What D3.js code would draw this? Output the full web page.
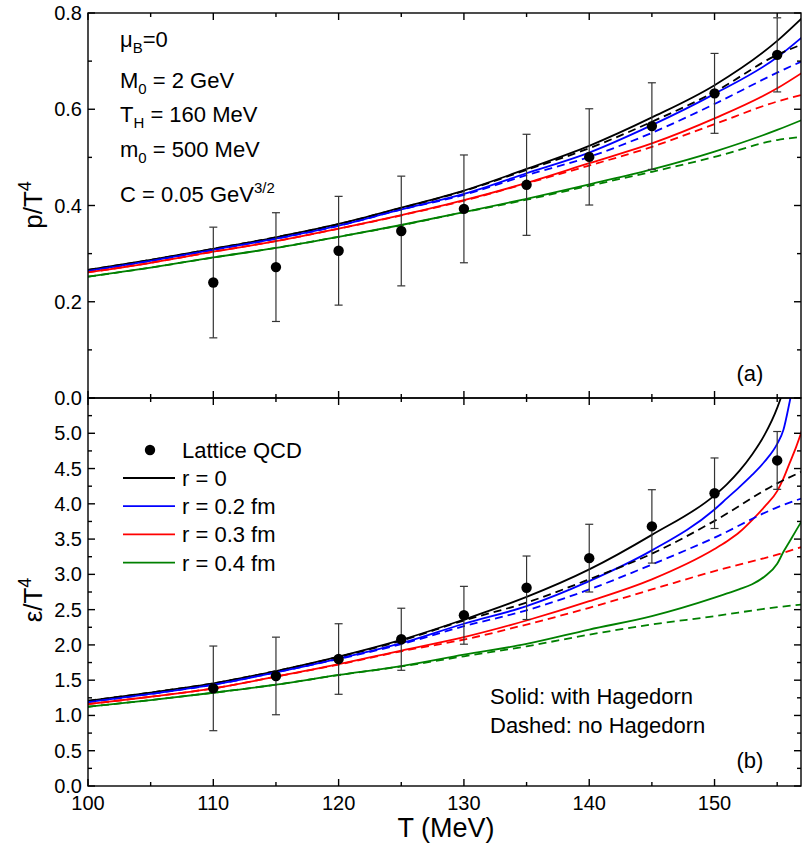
<!DOCTYPE html>
<html>
<head>
<meta charset="utf-8">
<script src="https://cdn.jsdelivr.net/npm/d3@7"></script>
<style>
  html, body { margin: 0; padding: 0; background: #fff; }
  svg { display: block; font-family: "Liberation Sans", Arial, sans-serif; }
</style>
</head>
<body>
<svg id="chart" width="802" height="848"></svg>
<script>
// ---- Lattice QCD points ----
const latticeT = [110, 115, 120, 125, 130, 135, 140, 145, 150, 155];
const latticeP = [0.240, 0.272, 0.306, 0.347, 0.393, 0.443, 0.501, 0.565, 0.633, 0.713];
const latticePErr = [0.115, 0.113, 0.113, 0.114, 0.112, 0.105, 0.100, 0.090, 0.083, 0.077];
const latticeE = [1.384, 1.56, 1.80, 2.08, 2.42, 2.81, 3.23, 3.68, 4.15, 4.615];
const latticeEErr = [0.60, 0.55, 0.50, 0.44, 0.41, 0.45, 0.48, 0.52, 0.50, 0.41];

// ---- Pressure p/T^4 (panel a) ----
const tP = [100, 105, 110, 115, 120, 125, 130, 135, 140, 145, 150, 155, 157];
const pR0     = [0.266, 0.287, 0.310, 0.334, 0.3616, 0.3955, 0.431, 0.476, 0.524, 0.583, 0.650, 0.742, 0.790];
const pR02    = [0.264, 0.285, 0.308, 0.331, 0.358, 0.392, 0.424, 0.467, 0.510, 0.567, 0.632, 0.708, 0.750];
const pR03    = [0.261, 0.281, 0.304, 0.326, 0.352, 0.380, 0.411, 0.447, 0.488, 0.529, 0.581, 0.6435, 0.676];
const pR04    = [0.252, 0.271, 0.292, 0.312, 0.335, 0.3595, 0.386, 0.414, 0.444, 0.475, 0.512, 0.557, 0.578];
const pR0NoH  = [0.266, 0.287, 0.310, 0.334, 0.3614, 0.395, 0.430, 0.474, 0.519, 0.574, 0.636, 0.713, 0.735];
const pR02NoH = [0.264, 0.285, 0.308, 0.331, 0.3578, 0.3915, 0.422, 0.463, 0.501, 0.551, 0.611, 0.676, 0.700];
const pR03NoH = [0.261, 0.281, 0.304, 0.326, 0.3518, 0.3795, 0.410, 0.446, 0.483, 0.522, 0.569, 0.616, 0.630];
const pR04NoH = [0.252, 0.271, 0.292, 0.312, 0.335, 0.359, 0.386, 0.412, 0.441, 0.470, 0.501, 0.536, 0.543];

// ---- Energy density eps/T^4 (panel b) ----
const tE = [100, 105, 110, 115, 120, 125, 130, 135, 140, 145, 150, 151, 152, 153, 154, 155, 155.5, 156, 156.5, 157];
const eR0  = [1.208, 1.325, 1.455, 1.63, 1.834, 2.071, 2.36, 2.68, 3.07, 3.56, 4.12, 4.28, 4.47, 4.70, 4.98, 5.36, 5.62, 6.0, null, null];
const eR02 = [1.19, 1.305, 1.436, 1.61, 1.806, 2.024, 2.30, 2.55, 2.905, 3.34, 3.92, 4.08, 4.24, 4.41, 4.60, 4.85, 5.05, 5.45, 5.9, null];
const eR03 = [1.161, 1.265, 1.384, 1.55, 1.726, 1.92, 2.11, 2.346, 2.62, 2.93, 3.36, 3.47, 3.60, 3.77, 3.96, 4.18, 4.36, 4.58, 4.80, 5.05];
const eR04 = [1.123, 1.218, 1.322, 1.436, 1.574, 1.70, 1.862, 2.014, 2.218, 2.408, 2.67, 2.73, 2.79, 2.86, 2.97, 3.15, 3.32, 3.47, 3.62, 3.77];
const tENoH = [100, 105, 110, 115, 120, 125, 130, 135, 140, 145, 150, 155, 157];
const eR0NoH  = [1.208, 1.325, 1.455, 1.63, 1.83, 2.06, 2.346, 2.60, 2.93, 3.293, 3.758, 4.29, 4.46];
const eR02NoH = [1.19, 1.305, 1.436, 1.61, 1.80, 2.01, 2.265, 2.49, 2.786, 3.14, 3.521, 3.95, 4.08];
const eR03NoH = [1.161, 1.265, 1.384, 1.55, 1.722, 1.91, 2.076, 2.289, 2.526, 2.786, 3.047, 3.28, 3.39];
const eR04NoH = [1.123, 1.218, 1.322, 1.436, 1.572, 1.695, 1.839, 1.98, 2.146, 2.289, 2.408, 2.535, 2.573];

// ---- Series styling / legend ----
const seriesLabels = ["r = 0", "r = 0.2 fm", "r = 0.3 fm", "r = 0.4 fm"];
const seriesColors = ["#000000", "#0000ff", "#ff0000", "#008000"];

// ---- Tick values ----
const xMajor = [100, 110, 120, 130, 140, 150];
const xMinor = [105, 115, 125, 135, 145, 155];
const pMajor = [0, 0.2, 0.4, 0.6, 0.8];
const pMinor = [0.1, 0.3, 0.5, 0.7];
const eMajor = [0, 0.5, 1, 1.5, 2, 2.5, 3, 3.5, 4, 4.5, 5, 5.5];
const eMinor = [0.25, 0.75, 1.25, 1.75, 2.25, 2.75, 3.25, 3.75, 4.25, 4.75, 5.25];
const eLabelled = [0, 0.5, 1, 1.5, 2, 2.5, 3, 3.5, 4, 4.5, 5];

const svg = d3.select("#chart");
const TICK_FONT = 20;
const TEXT_FONT = 22;

const x = d3.scaleLinear().domain([100, 156.9]).range([88, 801]);
const yP = d3.scaleLinear().domain([0, 0.8]).range([398, 13]);
const yE = d3.scaleLinear().domain([0, 5.5]).range([786, 398]);

const defs = svg.append("defs");
function clip(id, y0, y1) {
  defs.append("clipPath").attr("id", id)
    .append("rect").attr("x", 88).attr("y", y0).attr("width", 801 - 88).attr("height", y1 - y0);
}
clip("clipA", 13, 398);
clip("clipB", 398, 786);

function drawPanel(y, curves, dashed, tSolid, tDash, clipId, pts, errs) {
  const g = svg.append("g").attr("clip-path", `url(#${clipId})`);
  const mk = (ts) => d3.line()
    .defined(d => d != null)
    .x((d, i) => x(ts[i])).y(d => y(d))
    .curve(d3.curveMonotoneX);
  curves.forEach((vals, k) => {
    g.append("path").attr("d", mk(tSolid)(vals))
      .attr("fill", "none").attr("stroke", seriesColors[k]).attr("stroke-width", 1.8);
  });
  dashed.forEach((vals, k) => {
    g.append("path").attr("d", mk(tDash)(vals))
      .attr("fill", "none").attr("stroke", seriesColors[k]).attr("stroke-width", 1.8)
      .attr("stroke-dasharray", "8,5");
  });
  // error bars
  const eb = svg.append("g").attr("stroke", "#333").attr("stroke-width", 1.2);
  latticeT.forEach((t, i) => {
    const cx = x(t), top = y(pts[i] + errs[i]), bot = y(pts[i] - errs[i]);
    eb.append("line").attr("x1", cx).attr("x2", cx).attr("y1", top).attr("y2", bot);
    eb.append("line").attr("x1", cx - 4).attr("x2", cx + 4).attr("y1", top).attr("y2", top);
    eb.append("line").attr("x1", cx - 4).attr("x2", cx + 4).attr("y1", bot).attr("y2", bot);
  });
  svg.append("g").selectAll("circle").data(latticeT).join("circle")
    .attr("cx", d => x(d)).attr("cy", (d, i) => y(pts[i])).attr("r", 5.2).attr("fill", "#000");
}

drawPanel(yP, [pR0, pR02, pR03, pR04], [pR0NoH, pR02NoH, pR03NoH, pR04NoH], tP, tP, "clipA", latticeP, latticePErr);
drawPanel(yE, [eR0, eR02, eR03, eR04], [eR0NoH, eR02NoH, eR03NoH, eR04NoH], tE, tENoH, "clipB", latticeE, latticeEErr);

// ---- Frames and inward ticks ----
const axG = svg.append("g").attr("stroke", "#000").attr("stroke-width", 1.4);
function frame(y) {
  const [y0, y1] = y.range();
  axG.append("rect").attr("x", 88).attr("y", y1).attr("width", 801 - 88).attr("height", y0 - y1).attr("fill", "none");
}
function xTicks(yPos, dir, vals, len) {
  vals.forEach(v => axG.append("line").attr("x1", x(v)).attr("x2", x(v)).attr("y1", yPos).attr("y2", yPos + dir * len));
}
function yTicks(y, vals, len) {
  vals.forEach(v => {
    axG.append("line").attr("x1", 88).attr("x2", 88 + len).attr("y1", y(v)).attr("y2", y(v));
    axG.append("line").attr("x1", 801 - len).attr("x2", 801).attr("y1", y(v)).attr("y2", y(v));
  });
}
frame(yP); frame(yE);
xTicks(13, 1, xMajor, 7); xTicks(13, 1, xMinor, 4);
xTicks(398, -1, xMajor, 7); xTicks(398, -1, xMinor, 4);
xTicks(398, 1, xMajor, 7); xTicks(398, 1, xMinor, 4);
xTicks(786, -1, xMajor, 7); xTicks(786, -1, xMinor, 4);
yTicks(yP, pMajor, 7); yTicks(yP, pMinor, 4);
yTicks(yE, eMajor, 7); yTicks(yE, eMinor, 4);

// ---- Tick labels ----
const fmt = d3.format(".1f");
const lab = svg.append("g").attr("font-size", TICK_FONT).attr("fill", "#000");
pMajor.forEach(v => lab.append("text").attr("x", 82).attr("y", yP(v)).attr("dy", "0.35em").attr("text-anchor", "end").text(fmt(v)));
eLabelled.forEach(v => lab.append("text").attr("x", 82).attr("y", yE(v)).attr("dy", "0.35em").attr("text-anchor", "end").text(fmt(v)));
xMajor.forEach(v => lab.append("text").attr("x", x(v)).attr("y", 810).attr("text-anchor", "middle").text(v));

// ---- Axis titles ----
svg.append("text").attr("x", 446).attr("y", 837).attr("text-anchor", "middle").attr("font-size", 27).text("T (MeV)");
function yTitle(cy, sym) {
  const t = svg.append("text").attr("transform", `translate(42,${cy}) rotate(-90)`)
    .attr("text-anchor", "middle").attr("font-size", 26);
  t.append("tspan").text(sym + "/T");
  t.append("tspan").attr("dy", -11).attr("font-size", 18).text("4");
}
yTitle(205, "p");
yTitle(600, "ε");

// ---- Parameter notes (panel a) ----
const notes = svg.append("g").attr("font-size", TEXT_FONT);
function noteSub(yb, main, sub, rest) {
  const t = notes.append("text").attr("x", 120).attr("y", yb);
  t.append("tspan").text(main);
  t.append("tspan").attr("dy", 6).attr("font-size", 15).text(sub);
  t.append("tspan").attr("dy", -6).text(rest);
}
noteSub(47, "μ", "B", "=0");
noteSub(88, "M", "0", " = 2 GeV");
noteSub(122, "T", "H", " = 160 MeV");
noteSub(157, "m", "0", " = 500 MeV");
{
  const t = notes.append("text").attr("x", 120).attr("y", 202);
  t.append("tspan").text("C = 0.05 GeV");
  t.append("tspan").attr("dy", -9).attr("font-size", 15).text("3/2");
}
svg.append("text").attr("x", 750).attr("y", 381).attr("text-anchor", "middle").attr("font-size", TEXT_FONT).text("(a)");
svg.append("text").attr("x", 750).attr("y", 768).attr("text-anchor", "middle").attr("font-size", TEXT_FONT).text("(b)");

// ---- Legend (panel b) ----
const leg = svg.append("g").attr("font-size", TEXT_FONT);
leg.append("circle").attr("cx", 150).attr("cy", 450).attr("r", 5.2).attr("fill", "#000");
leg.append("text").attr("x", 182).attr("y", 458).text("Lattice QCD");
seriesLabels.forEach((s, i) => {
  const yy = 478 + i * 28.2;
  leg.append("line").attr("x1", 123).attr("x2", 175).attr("y1", yy).attr("y2", yy)
    .attr("stroke", seriesColors[i]).attr("stroke-width", 1.8);
  leg.append("text").attr("x", 182).attr("y", yy + 8).text(s);
});
svg.append("text").attr("x", 490).attr("y", 704).attr("font-size", TEXT_FONT).text("Solid: with Hagedorn");
svg.append("text").attr("x", 490).attr("y", 733).attr("font-size", TEXT_FONT).text("Dashed: no Hagedorn");
</script>
</body>
</html>
